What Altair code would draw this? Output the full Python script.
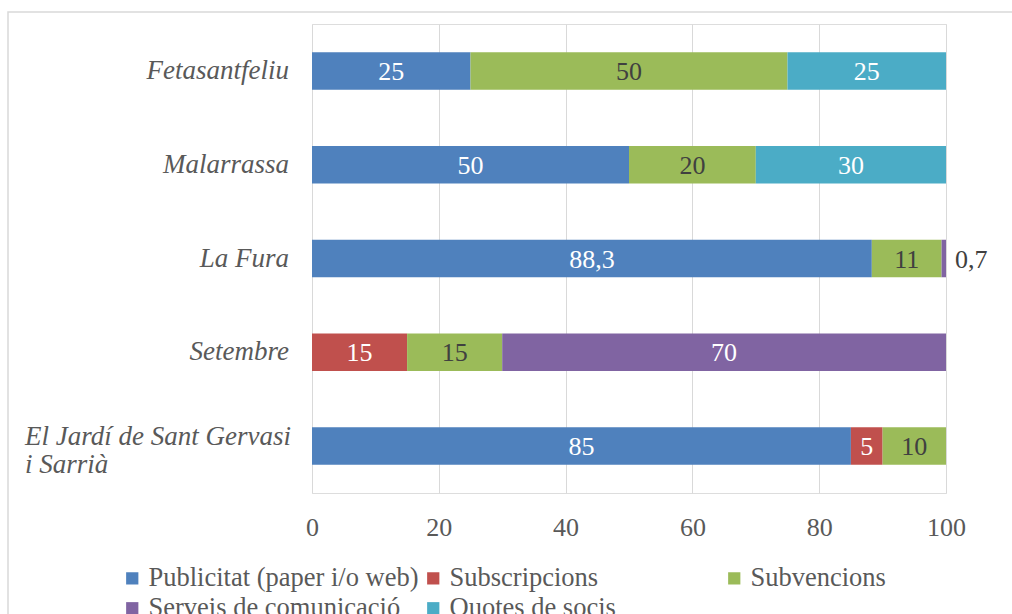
import altair as alt
import pandas as pd

categories = ["Fetasantfeliu", "Malarrassa", "La Fura", "Setembre", "El Jardí de Sant Gervasi i Sarrià"]
series = ["Publicitat (paper i/o web)", "Subscripcions", "Subvencions", "Serveis de comunicació", "Quotes de socis"]
colors = ["#4F81BD", "#C0504D", "#9BBB59", "#8064A2", "#4BACC6"]

publicitat = [25, 50, 88.3, 0, 85]
subscripcions = [0, 0, 0, 15, 5]
subvencions = [50, 20, 11, 15, 10]
serveis = [0, 0, 0.7, 70, 0]
quotes = [25, 30, 0, 0, 0]

values = [publicitat, subscripcions, subvencions, serveis, quotes]
rows = []
for si, (s, vals) in enumerate(zip(series, values)):
    for c, v in zip(categories, vals):
        if v > 0:
            lab = (f"{v:g}").replace(".", ",")
            rows.append({"cat": c, "series": s, "value": v, "ord": si, "label": lab})
df = pd.DataFrame(rows)

FONT = "'Liberation Serif', 'Times New Roman', serif"
W, H = 634, 469

base = alt.Chart(df)

ysc = alt.Scale(domain=categories, paddingInner=0.6, paddingOuter=0.3)

bars = base.mark_bar().encode(
    x=alt.X("value:Q", stack="zero",
            scale=alt.Scale(domain=[0, 100], nice=False),
            axis=alt.Axis(values=[0, 20, 40, 60, 80, 100], grid=True, gridColor="#D9D9D9",
                          domain=False, ticks=False, title=None, labelFont=FONT, labelFlush=False,
                          labelFontSize=26, labelColor="#595959", labelPadding=21)),
    y=alt.Y("cat:N", scale=ysc, axis=None, sort=categories),
    color=alt.Color("series:N", scale=alt.Scale(domain=series, range=colors),
                    legend=alt.Legend(title=None, orient="none", legendX=-193, legendY=541,
                                      direction="horizontal",
                                      columns=3, gridAlign="all", columnPadding=1,
                                      rowPadding=3, symbolType="square", symbolSize=150,
                                      symbolStrokeWidth=0, symbolOffset=0,
                                      labelFont=FONT, labelFontSize=26.5, labelColor="#595959",
                                      labelOffset=3, labelLimit=400)),
    order=alt.Order("ord:Q"),
)

stacked = base.transform_stack(
    stack="value", groupby=["cat"], as_=["x0", "x1"], sort=[alt.SortField("ord")]
).transform_calculate(mid="(datum.x0 + datum.x1) / 2")

inner = stacked.transform_filter("datum.value >= 1").mark_text(
    font=FONT, fontSize=26, baseline="middle", dy=1
).encode(
    x=alt.X("mid:Q"),
    y=alt.Y("cat:N", sort=categories),
    text="label:N",
    color=alt.condition("datum.series == 'Subvencions'", alt.value("#404040"), alt.value("#FFFFFF")),
)

outer = stacked.transform_filter("datum.value < 1").mark_text(
    font=FONT, fontSize=26, baseline="middle", align="left", dx=9, dy=1, color="#404040"
).encode(
    x=alt.X("x1:Q"),
    y=alt.Y("cat:N", sort=categories),
    text="label:N",
)

labdf = pd.DataFrame({"cat": categories,
                      "txt": [c if c != categories[-1] else "El Jardí de Sant Gervasi\ni Sarrià" for c in categories],
                      "multi": [c == categories[-1] for c in categories]})
labbase = alt.Chart(labdf)
catlab1 = labbase.transform_filter("!datum.multi").mark_text(
    font=FONT, fontSize=27, fontStyle="italic", align="right", baseline="middle", color="#595959"
).encode(x=alt.value(-23), y=alt.Y("cat:N", sort=categories), text="txt:N")
catlab2 = labbase.transform_filter("datum.multi").mark_text(
    font=FONT, fontSize=27, fontStyle="italic", align="left", baseline="middle", color="#595959",
    lineBreak="\n", lineHeight=28, dy=-9
).encode(x=alt.value(25 - 312), y=alt.Y("cat:N", sort=categories), text="txt:N")

border = alt.Chart(pd.DataFrame({"a": [0]})).mark_rect(
    fill="transparent", stroke="#D9D9D9", strokeWidth=1.5
).encode(x=alt.value(8 - 312), x2=alt.value(1030 - 312), y=alt.value(12 - 24), y2=alt.value(640 - 24))

chart = alt.layer(border, bars, inner, outer, catlab1, catlab2).resolve_scale(y="shared").properties(
    width=W, height=H,
    autosize=alt.AutoSizeParams(type="none"),
    padding={"left": 312, "top": 24, "right": 1012 - 312 - W, "bottom": 614 - 24 - H},
).configure_view(stroke=None).configure(background="white")

chart.save("out.html", embed_options={"renderer": "svg", "actions": False})
